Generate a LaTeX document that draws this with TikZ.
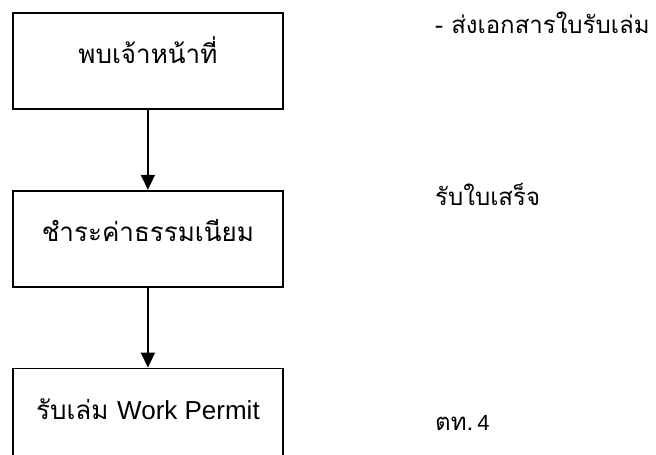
\documentclass[tikz,border=0pt]{standalone}
\usepackage{fontspec}
\setmainfont{Liberation Sans}
\newfontfamily\thaifont[Script=Thai]{Loma}
\usetikzlibrary{arrows.meta, positioning}

\begin{document}
\begin{tikzpicture}[
    x=1pt, y=1pt,
    node distance=80pt,
    stepbox/.style={draw, line width=1.8pt, minimum width=270pt, minimum height=96pt,
        inner sep=0pt, text height=25pt, text depth=20pt, align=center, font=\thaifont\fontsize{26}{30}\selectfont},
    note/.style={anchor=base west, inner sep=0pt, font=\thaifont\fontsize{24}{28}\selectfont},
    arrow/.style={-{Triangle[length=15pt, width=14pt]}, line width=1.8pt}
]
\clip (0,0) rectangle (656,-455);

% Boxes
\node (meet) [stepbox, anchor=north west] at (12,-12) {พบเจ้าหน้าที่};
\node (fee) [stepbox, below=of meet] {ชำระค่าธรรมเนียม};
\node (book) [stepbox, below=of fee] {รับเล่ม {\fontspec{Liberation Sans}\fontsize{26}{30}\selectfont Work Permit}};

\draw[arrow] (meet) -- (fee);
\draw[arrow] (fee) -- (book);

% Notes
\node (sendnote) [note] at (435,-33) {- ส่งเอกสารใบรับเล่ม};
\node (receipt) [note] at (435,-205) {รับใบเสร็จ};
\node (form) [note] at (435,-430) {ตท.\,{\fontspec{Liberation Sans}\fontsize{22}{26}\selectfont 4}};

\end{tikzpicture}
\end{document}
